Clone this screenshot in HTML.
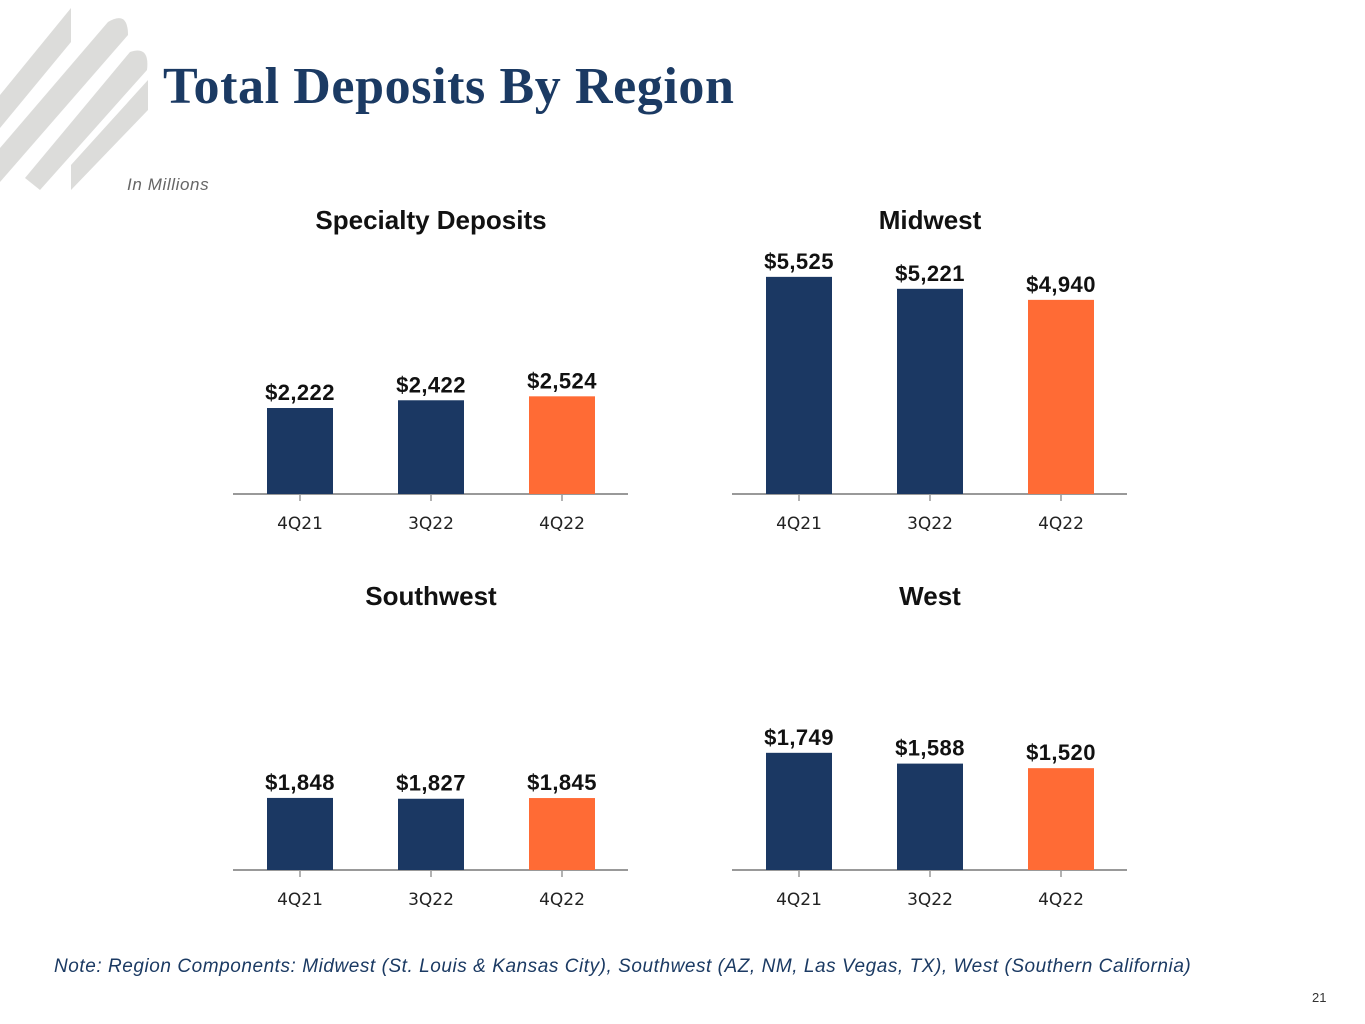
<!DOCTYPE html>
<html><head><meta charset="utf-8"><style>
body{margin:0;width:1365px;height:1024px;background:#fff;position:relative;overflow:hidden;font-family:"Liberation Sans",sans-serif}
.t{position:absolute}
</style></head><body>
<svg class="t" style="left:0;top:0" width="160" height="190">
<g fill="#dcdcda">
<polygon points="0,95 71,8 71,42 0,128"/>
<path d="M0,148 L108,22 Q128,10 128,35 L0,182 Z"/>
<path d="M25,178 L130,52 Q150,45 147,70 L40,190 Z"/>
<polygon points="71,165 148,80 148,110 71,190"/>
</g></svg>
<div class="t" style="left:163px;top:57px;font-family:'Liberation Serif',serif;font-weight:bold;font-size:52px;letter-spacing:0.6px;color:#1b3a63">Total Deposits By Region</div>
<div class="t" style="left:127px;top:175px;font-style:italic;font-size:17px;letter-spacing:0.6px;color:#666">In Millions</div>
<div class="t" style="left:54px;top:956px;font-style:italic;font-size:19px;letter-spacing:0.55px;color:#1b3a63">Note: Region Components: Midwest (St. Louis &amp; Kansas City), Southwest (AZ, NM, Las Vegas, TX), West (Southern California)</div>
<div class="t" style="left:1312px;top:990px;font-size:13px;color:#333">21</div>
<svg id="c" class="t" style="left:0;top:0" width="1365" height="1024"></svg>
<script>
const categories=["4Q21","3Q22","4Q22"];
const titles=["Specialty Deposits","Midwest","Southwest","West"];
const specialtyValues=[2222,2422,2524];
const midwestValues=[5525,5221,4940];
const southwestValues=[1848,1827,1845];
const westValues=[1749,1588,1520];
const series=[specialtyValues,midwestValues,southwestValues,westValues];
const scales=[0.0387,0.0393,0.039,0.067];
const panels=[{x:233,y:494,t:219},{x:732,y:494,t:219},{x:233,y:870,t:595},{x:732,y:870,t:595}];
const svg=document.getElementById('c');const NS='http://www.w3.org/2000/svg';
function mk(tag,a,txt){const e=document.createElementNS(NS,tag);for(const k in a)e.setAttribute(k,a[k]);if(txt!=null)e.textContent=txt;svg.appendChild(e);return e;}
series.forEach((vals,p)=>{const P=panels[p];const sc=scales[p];
 let e=mk('text',{x:P.x+198,y:P.t+10,'text-anchor':'middle','font-size':26,'font-weight':'bold',fill:'#111','font-family':'Liberation Sans Narrow, Liberation Sans, sans-serif'},titles[p]);
 
 
 e=mk('line',{x1:P.x,x2:P.x+395,y1:P.y,y2:P.y,stroke:'#999','stroke-width':2});
 
 
 vals.forEach((v,i)=>{const cx=P.x+67+i*131;const h=v*sc;
  e=mk('rect',{x:cx-33,y:P.y-h,width:66,height:h,fill:i==2?'#ff6b35':'#1b3863'});
  
  
  e=mk('text',{x:cx,y:P.y-h-8,'text-anchor':'middle','font-size':22,'font-weight':'bold',fill:'#111','letter-spacing':0.4},'$'+v.toLocaleString('en-US'));
  
  
  mk('line',{x1:cx,x2:cx,y1:P.y,y2:P.y+7,stroke:'#999','stroke-width':1.5});
  e=mk('text',{x:cx,y:P.y+35,'text-anchor':'middle','font-size':17,fill:'#222','font-family':'DejaVu Sans, sans-serif'},categories[i]);
  
  
 });
});
</script>
</body></html>
